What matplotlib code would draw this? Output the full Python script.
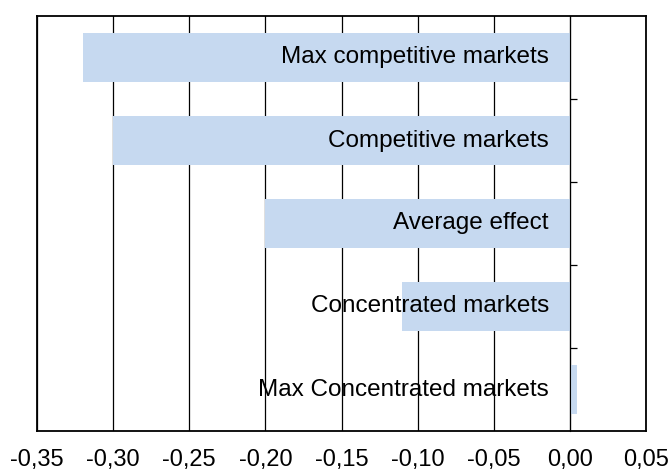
import matplotlib
matplotlib.use('Agg')
import matplotlib.pyplot as plt

categories = ['Max competitive markets', 'Competitive markets', 'Average effect',
              'Concentrated markets', 'Max Concentrated markets']
values = [-0.32, -0.30, -0.20, -0.11, 0.005]
xticks = [-0.35, -0.30, -0.25, -0.20, -0.15, -0.10, -0.05, 0.00, 0.05]
label_x = -0.0138

plt.rcParams['font.family'] = ['Liberation Sans', 'DejaVu Sans']
plt.rcParams['font.size'] = 17.5

fig = plt.figure(figsize=(6.72, 4.71), dpi=100)
ax = fig.add_axes([37 / 672, 1 - 431 / 471, (646 - 37) / 672, (431 - 16) / 471])

pos = list(range(len(categories)))
ax.barh(pos, values, height=0.59, color='#c6d9f0', zorder=2)
for y, name in zip(pos, categories):
    ax.text(label_x, y, name, ha='right', va='center', fontsize=17.5, zorder=3)

ax.set_xlim(-0.35, 0.05)
ax.set_ylim(len(categories) - 0.5, -0.5)
ax.set_xticks(xticks)
ax.set_xticklabels([('%.2f' % t).replace('.', ',') for t in xticks])
ax.tick_params(axis='x', length=0, pad=13, labelsize=17)
ax.grid(axis='x', color='black', lw=0.9, zorder=1)

# category axis sits at zero, with separator ticks pointing right
ax.spines['left'].set_position(('data', 0))
ax.spines['left'].set_zorder(4)
ax.set_yticks([p + 0.5 for p in pos[:-1]])
ax.set_yticklabels([])
ax.tick_params(axis='y', direction='in', length=5, width=0.9)
for s in ['top', 'right', 'bottom']:
    ax.spines[s].set_linewidth(1.3)
ax.plot([0, 0], [0, 1], transform=ax.transAxes, color='black', lw=1.3, clip_on=False)

fig.savefig('out.png', dpi=100)
